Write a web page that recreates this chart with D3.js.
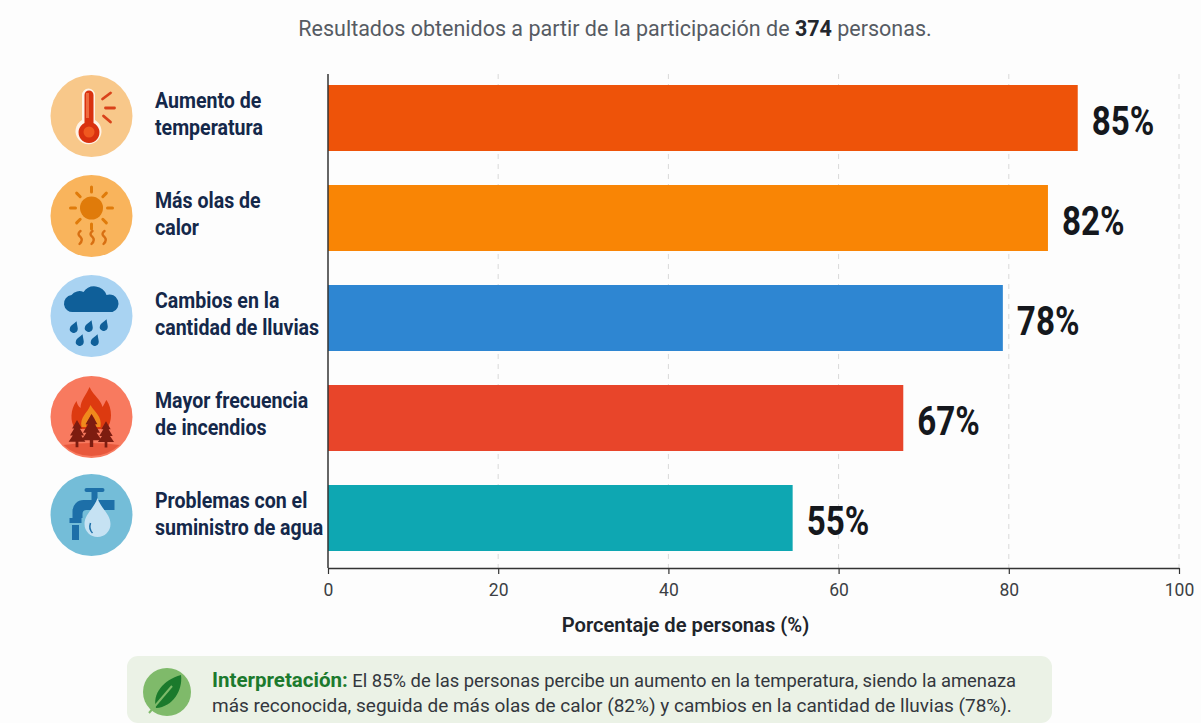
<!DOCTYPE html>
<html>
<head>
<meta charset="utf-8">
<script src="https://cdnjs.cloudflare.com/ajax/libs/d3/7.8.5/d3.min.js"></script>
<style>
    html, body { margin: 0; padding: 0; background: #fdfdfd; overflow: hidden; }
    text { font-family: Roboto, "Noto Sans", sans-serif; }
</style>
</head>
<body>
<div id="chart"></div>
<script>
const categories = ["temperatura", "calor", "lluvias", "incendios", "agua"];
const categoryLines = [
    ["Aumento de", "temperatura"],
    ["Más olas de", "calor"],
    ["Cambios en la", "cantidad de lluvias"],
    ["Mayor frecuencia", "de incendios"],
    ["Problemas con el", "suministro de agua"]
];
// bar ends as drawn in the picture, they run a bit off the printed labels
const barValues = [88.1, 84.6, 79.3, 67.6, 54.6];
const valueLabels = ["85%", "82%", "78%", "67%", "55%"];
const barColors = ["#ee5309", "#f98505", "#2e86d2", "#e8452a", "#0ea7b2"];
const ticks = [0, 20, 40, 60, 80, 100];

const width = 1201, height = 723;
const svg = d3.select("#chart").append("svg")
    .attr("width", width)
    .attr("height", height)
    .attr("viewBox", `0 0 ${width} ${height}`)
    .style("display", "block");

const x = d3.scaleLinear().domain([0, 100]).range([328, 1179]);
const y = d3.scaleBand().domain(categories).range([85, 551]).paddingInner(0.34);
const axisY = 568;

//title
const title = svg.append("text")
    .attr("x", 615).attr("y", 36)
    .attr("text-anchor", "middle")
    .attr("font-size", 21.5)
    .attr("fill", "#565b63");
title.append("tspan").text("Resultados obtenidos a partir de la participación de ");
title.append("tspan").attr("font-weight", 700).attr("fill", "#23272e").text("374");
title.append("tspan").text(" personas.");

//grid
svg.append("g").selectAll("line")
    .data(ticks.slice(1))
    .join("line")
    .attr("x1", d => x(d)).attr("x2", d => x(d))
    .attr("y1", 74).attr("y2", axisY)
    .attr("stroke", "#d9d9d9")
    .attr("stroke-width", 1)
    .attr("stroke-dasharray", "5 5");

//bars
svg.append("g").selectAll("rect")
    .data(categories)
    .join("rect")
    .attr("x", x(0))
    .attr("y", d => y(d))
    .attr("width", (d, i) => x(barValues[i]) - x(0))
    .attr("height", y.bandwidth())
    .attr("fill", (d, i) => barColors[i]);

//value labels, squeezed since the reference face is condensed
svg.append("g").selectAll("text")
    .data(categories)
    .join("text")
    .attr("transform", (d, i) => `translate(${x(barValues[i]) + 14},${y(d) + y.bandwidth() / 2 + 17}) scale(0.83,1)`)
    .attr("font-size", 40)
    .attr("font-weight", 700)
    .attr("fill", "#15181d")
    .text((d, i) => valueLabels[i]);

//axes
const xAxis = d3.axisBottom(x).tickValues(ticks).tickSize(6).tickSizeOuter(0).tickPadding(10);
const xg = svg.append("g").attr("transform", `translate(0,${axisY})`).call(xAxis);
xg.select(".domain").attr("stroke", "#333").attr("stroke-width", 1.5);
xg.selectAll(".tick line").attr("stroke", "#333").attr("stroke-width", 1.2);
xg.selectAll(".tick text").attr("font-size", 17.5).attr("fill", "#3c3f44");

svg.append("line")
    .attr("x1", x(0)).attr("x2", x(0))
    .attr("y1", 74).attr("y2", axisY)
    .attr("stroke", "#333").attr("stroke-width", 1.5);

svg.append("text")
    .attr("x", 685.5).attr("y", 632)
    .attr("text-anchor", "middle")
    .attr("font-size", 20.2)
    .attr("font-weight", 600)
    .attr("fill", "#20242b")
    .text("Porcentaje de personas (%)");

//category labels
const labels = svg.append("g").selectAll("text")
    .data(categories)
    .join("text")
    .attr("transform", "translate(155,0) scale(0.91,1)")
    .attr("font-size", 21.5)
    .attr("font-weight", 700)
    .attr("fill", "#14284a");
labels.each(function (d, i) {
    d3.select(this).selectAll("tspan")
        .data(categoryLines[i])
        .join("tspan")
        .attr("x", 0)
        .attr("y", (l, j) => y(d) + y.bandwidth() / 2 - 10 + j * 27.5)
        .text(l => l);
});

//icons
const iconCenters = [116, 216, 316, 417, 515];
const iconBg = ["#f8c88a", "#f9b45c", "#a9d3f2", "#f87a5f", "#74bdd8"];
const icons = svg.append("g").selectAll("g")
    .data(categories)
    .join("g")
    .attr("transform", (d, i) => `translate(91.5,${iconCenters[i]})`);
icons.append("circle").attr("r", 41).attr("fill", (d, i) => iconBg[i]);

drawThermometer(icons.filter((d, i) => i === 0));
drawSun(icons.filter((d, i) => i === 1));
drawRain(icons.filter((d, i) => i === 2));
drawFire(icons.filter((d, i) => i === 3));
drawTap(icons.filter((d, i) => i === 4));

function drawThermometer(g) {
    g.append("path")
        .attr("d", "M-9,-21 a6.5,6.5 0 0 1 13,0 V4 a13,13 0 1 1 -13,0 Z")
        .attr("transform", "translate(-0.5,0)")
        .attr("fill", "#fff3e6");
    g.append("path")
        .attr("d", "M-7,-21 a4.5,4.5 0 0 1 9,0 V7 a10.5,10.5 0 1 1 -9,0 Z")
        .attr("fill", "#d9310f");
    g.append("rect").attr("x", -5.5).attr("y", -23).attr("width", 3).attr("height", 25).attr("fill", "#ee6a3e");
    g.append("circle").attr("cx", -2.5).attr("cy", 16).attr("r", 5.5).attr("fill", "#f0581f");
    const rays = [[11, -17, 19, -23], [14, -8, 23, -8], [12, 0, 19, 6]];
    g.selectAll(".ray").data(rays).join("line")
        .attr("class", "ray")
        .attr("x1", d => d[0]).attr("y1", d => d[1])
        .attr("x2", d => d[2]).attr("y2", d => d[3])
        .attr("stroke", "#d9421a").attr("stroke-width", 2.8).attr("stroke-linecap", "round");
}

function drawSun(g) {
    g.append("circle").attr("cy", -8).attr("r", 11.5).attr("fill", "#e07b0a");
    d3.range(8).forEach(k => {
        const a = k * Math.PI / 4 - Math.PI / 2;
        g.append("line")
            .attr("x1", 16 * Math.cos(a)).attr("y1", -8 + 16 * Math.sin(a))
            .attr("x2", 21 * Math.cos(a)).attr("y2", -8 + 21 * Math.sin(a))
            .attr("stroke", "#e07b0a").attr("stroke-width", 3).attr("stroke-linecap", "round");
    });
    [-12, 0, 12].forEach(dx => {
        g.append("path")
            .attr("d", `M${dx + 1},15 q-4,3 0,6 q3,3 -1,7`)
            .attr("fill", "none").attr("stroke", "#d86f12").attr("stroke-width", 2.4).attr("stroke-linecap", "round");
    });
}

function drawRain(g) {
    g.append("path")
        .attr("d", "M-18,-4 a8.5,8.5 0 0 1 -2,-17 a10,10 0 0 1 12,-3 a13,13 0 0 1 23,3 a8.5,8.5 0 0 1 6,17 Z")
        .attr("fill", "#0f5f99");
    const drops = [[-17, 11], [-2, 10], [13, 9], [-11, 24], [4, 24]];
    g.selectAll(".drop").data(drops).join("path")
        .attr("class", "drop")
        .attr("transform", d => `translate(${d[0]},${d[1]}) rotate(20)`)
        .attr("d", "M0,-6 C2,-2 4,0 4,2 a4,4 0 0 1 -8,0 C-4,0 -2,-2 0,-6 Z")
        .attr("fill", "#0f5f99");
}

function drawFire(g) {
    g.append("path")
        .attr("d", "M-28,28 A41,41 0 0 0 28,28 Q0,24 -28,28 Z")
        .attr("fill", "#e8583c");
    g.append("path")
        .attr("d", "M-2,-30 C3,-20 9,-18 11,-10 C13,-13 14,-16 15,-17 C21,-8 21,5 15,12 H-16 C-22,5 -21,-8 -15,-16 C-14,-12 -13,-11 -11,-9 C-11,-17 -5,-22 -2,-30 Z")
        .attr("fill", "#dd3a10");
    g.append("path")
        .attr("d", "M-1,-12 C2,-6 11,-1 9,10 H-10 C-12,0 -4,-4 -1,-12 Z")
        .attr("fill", "#f08a1c");
    g.append("path")
        .attr("d", "M0,-3 C3,1 5,4 4,10 H-5 C-6,5 -2,2 0,-3 Z")
        .attr("fill", "#dd3a10");
    const trees = [[-14.5, 10.7, 0.7], [0, 6.3, 0.85], [14.5, 11.7, 0.67]];
    g.selectAll(".tree").data(trees).join("path")
        .attr("class", "tree")
        .attr("transform", d => `translate(${d[0]},${d[1]}) scale(${d[2]})`)
        .attr("d", "M0,-11 L7,1 H4 L10,11 H6 L12,20 H2 V28 H-2 V20 H-12 L-6,11 H-10 L-4,1 H-7 Z")
        .attr("fill", "#7d1c10");
}

function drawTap(g) {
    g.append("path")
        .attr("d", "M-22,8 V3 H-19 V-4 a11,11 0 0 1 11,-11 H0 V-23 H6 V-15 H23 V-5 H-5 a4,4 0 0 0 -4,4 V3 H-10 V8 Z")
        .attr("fill", "#1d6fa8");
    g.append("rect").attr("x", -7).attr("y", -27).attr("width", 20).attr("height", 4).attr("rx", 2).attr("fill", "#1d6fa8");
    g.append("rect").attr("x", -19.5).attr("y", 10).attr("width", 7).attr("height", 15).attr("fill", "#1d6fa8");
    g.append("path")
        .attr("d", "M6,-7 C9,3 19,9 19,19 a13,13 0 0 1 -26,0 C-7,9 3,3 6,-7 Z")
        .attr("transform", "translate(0,-10)")
        .attr("fill", "#c6e2f3");
    g.append("path")
        .attr("d", "M-1,8 Q-3,14 1,18")
        .attr("fill", "none").attr("stroke", "#1d6fa8").attr("stroke-width", 1.5);
}

//interpretation box
svg.append("rect")
    .attr("x", 127).attr("y", 656)
    .attr("width", 925).attr("height", 67)
    .attr("rx", 11)
    .attr("fill", "#ebf2e6");
const leaf = svg.append("g").attr("transform", "translate(167,692)");
leaf.append("circle").attr("r", 24).attr("fill", "#7fba6a");
leaf.append("path")
    .attr("d", "M14,-17 C16,-2 6,15 -11,16 C-15,2 -4,-12 14,-17 Z")
    .attr("fill", "#1b7a2c");
leaf.append("line")
    .attr("x1", -18).attr("y1", 21).attr("x2", 5).attr("y2", -6)
    .attr("stroke", "#7fba6a").attr("stroke-width", 2);

const note1 = svg.append("text").attr("x", 212).attr("y", 687).attr("font-size", 18.4).attr("fill", "#33373d");
note1.append("tspan").attr("font-weight", 700).attr("font-size", 20.5).attr("fill", "#1c7a2e").text("Interpretación:");
note1.append("tspan").text(" El 85% de las personas percibe un aumento en la temperatura, siendo la amenaza");
svg.append("text").attr("x", 212).attr("y", 712).attr("font-size", 19).attr("fill", "#33373d")
    .text("más reconocida, seguida de más olas de calor (82%) y cambios en la cantidad de lluvias (78%).");
</script>
</body>
</html>
